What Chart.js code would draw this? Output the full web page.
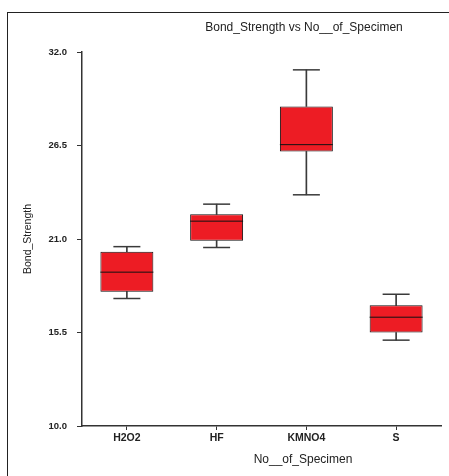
<!DOCTYPE html>
<html>
<head>
<meta charset="utf-8">
<script src="https://cdn.jsdelivr.net/npm/chart.js@4"></script>
<style>
  html, body { margin: 0; padding: 0; background: #fff; overflow: hidden; }
  #wrap { position: relative; width: 449px; height: 476px; }
  #frame { position: absolute; left: 7px; top: 12px; width: 470px; height: 480px; border: 1px solid #222; }
  canvas { position: absolute; left: 0; top: 0; }
</style>
</head>
<body>
<div id="wrap">
  <div id="frame"></div>
  <canvas id="boxChart" width="449" height="476"></canvas>
</div>
<script>
// box plot values
const specimens = ['H2O2', 'HF', 'KMNO4', 'S'];
const minVals    = [17.5, 20.5, 23.6, 15.05];
const q1Vals     = [17.9, 20.9, 26.15, 15.5];
const medianVals = [19.05, 22.05, 26.55, 16.4];
const q3Vals     = [20.25, 22.45, 28.8, 17.1];
const maxVals    = [20.55, 23.05, 30.95, 17.75];
const yTicks     = [10.0, 15.5, 21.0, 26.5, 32.0];

const axisColor = '#333333';
const boxRed = '#ED1C24';

// titles drawn at the spots they sit in the original figure
const titlePlugin = {
    id: 'titles',
    afterDraw(chart) {
        const ctx = chart.ctx;
        ctx.save();
        ctx.fillStyle = '#222';
        ctx.textAlign = 'center';
        ctx.textBaseline = 'middle';
        ctx.font = '12px "Liberation Sans", Arial, sans-serif';
        ctx.fillText('Bond_Strength vs No__of_Specimen', 304, 28);
        ctx.fillText('No__of_Specimen', 303, 460);
        ctx.font = '10.5px "Liberation Sans", Arial, sans-serif';
        ctx.translate(28, 239);
        ctx.rotate(-Math.PI / 2);
        ctx.fillText('Bond_Strength', 0, 0);
        ctx.restore();
    }
};

const ctx = document.getElementById('boxChart').getContext('2d');
const boxChart = new Chart(ctx, {
    type: 'bar',
    data: {
        labels: specimens,
        datasets: [
            {
                label: 'median',
                type: 'line',
                data: medianVals,
                showLine: false,
                pointStyle: 'line',
                pointRadius: 26.5,
                pointHoverRadius: 26.5,
                borderColor: '#111',
                borderWidth: 1,
                order: 0
            },
            {
                label: 'box',
                data: specimens.map((s, i) => [q1Vals[i], q3Vals[i]]),
                backgroundColor: boxRed,
                borderColor: '#111',
                borderWidth: 1,
                borderSkipped: false,
                barPercentage: 0.59,
                categoryPercentage: 1,
                grouped: false,
                order: 1
            },
            {
                label: 'upper whisker',
                data: specimens.map((s, i) => [q3Vals[i], maxVals[i]]),
                backgroundColor: '#3a3a3a',
                barThickness: 1,
                grouped: false,
                order: 2
            },
            {
                label: 'lower whisker',
                data: specimens.map((s, i) => [minVals[i], q1Vals[i]]),
                backgroundColor: '#3a3a3a',
                barThickness: 1,
                grouped: false,
                order: 2
            },
            {
                label: 'max cap',
                type: 'line',
                data: maxVals,
                showLine: false,
                pointStyle: 'line',
                pointRadius: 13.5,
                pointHoverRadius: 13.5,
                borderColor: '#3a3a3a',
                borderWidth: 1.5,
                order: 0
            },
            {
                label: 'min cap',
                type: 'line',
                data: minVals,
                showLine: false,
                pointStyle: 'line',
                pointRadius: 13.5,
                pointHoverRadius: 13.5,
                borderColor: '#3a3a3a',
                borderWidth: 1.5,
                order: 0
            }
        ]
    },
    options: {
        responsive: false,
        animation: false,
        events: [],
        layout: { autoPadding: false, padding: { left: 0, top: 52, right: 8, bottom: 0 } },
        plugins: {
            legend: { display: false },
            title: { display: false },
            tooltip: { enabled: false }
        },
        scales: {
            x: {
                type: 'category',
                offset: true,
                afterFit: function(scale) { scale.height = 50; },
                grid: {
                    offset: false,
                    drawOnChartArea: false,
                    drawTicks: true,
                    tickLength: 4,
                    color: axisColor,
                    lineWidth: 1
                },
                border: { display: true, color: axisColor, width: 1.5 },
                ticks: {
                    color: '#222',
                    padding: 2,
                    font: { family: '"Liberation Sans", Arial, sans-serif', size: 10.5, weight: 'bold' }
                }
            },
            y: {
                min: 10,
                max: 32,
                afterFit: function(scale) { scale.width = 82; },
                afterBuildTicks: function(scale) {
                    scale.ticks = yTicks.map(v => ({ value: v }));
                },
                grid: {
                    drawOnChartArea: false,
                    drawTicks: true,
                    tickLength: 5,
                    color: axisColor,
                    lineWidth: 1
                },
                border: { display: true, color: axisColor, width: 1.5 },
                ticks: {
                    color: '#222',
                    padding: 10,
                    callback: v => Number(v).toFixed(1),
                    font: { family: '"Liberation Sans", Arial, sans-serif', size: 9.5, weight: 'bold' }
                }
            }
        }
    },
    plugins: [titlePlugin]
});
</script>
</body>
</html>
